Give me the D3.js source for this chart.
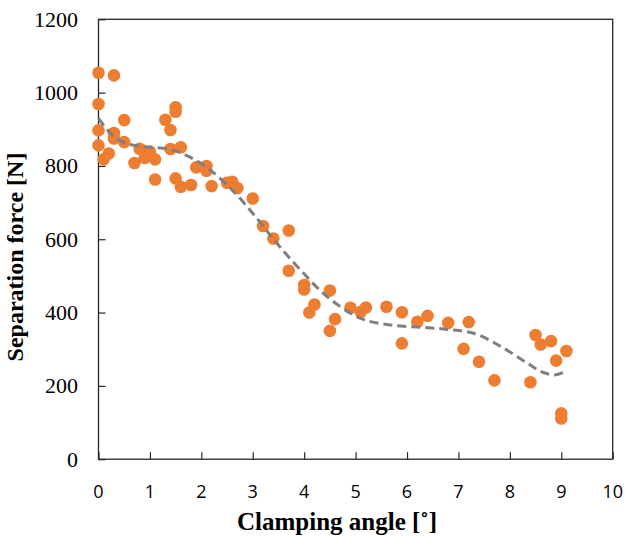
<!DOCTYPE html>
<html>
<head>
<meta charset="utf-8">
<script src="https://cdn.jsdelivr.net/npm/d3@7"></script>
<style>
  body { margin: 0; background: #fff; }
  svg { display: block; }
</style>
</head>
<body>
<div id="chart-area"></div>
<script>
// measured points (clamping angle in degrees, separation force in N)
var angle = [0.0, 0.3, 0.0, 0.5, 0.0, 1.5, 1.5, 1.3, 1.4, 0.3, 0.3, 0.0, 0.5, 0.2, 0.1,
             0.8, 1.0, 0.9, 1.1, 0.7, 1.4, 1.6, 1.1, 1.5, 1.6, 1.8, 1.9, 2.1, 2.1, 2.2,
             2.5, 2.6, 2.7, 3.0, 3.2, 3.7, 3.4, 3.7, 4.0, 4.0, 4.5, 4.2, 4.1, 4.6, 4.5,
             4.9, 5.1, 5.2, 5.6, 5.9, 5.9, 6.2, 6.4, 6.8, 7.2, 7.1, 7.4, 7.7, 8.4, 8.5,
             8.6, 8.8, 8.9, 9.1, 9.0, 9.0];
var force = [1054, 1047, 969, 925, 897, 960, 948, 926, 898, 890, 875, 856, 865, 834, 818,
             847, 839, 822, 818, 808, 846, 851, 763, 766, 743, 748, 796, 800, 787, 745,
             754, 757, 740, 711, 636, 624, 602, 514, 475, 463, 460, 422, 400, 382, 350,
             413, 402, 414, 416, 401, 316, 375, 391, 372, 374, 301, 266, 215, 210, 339,
             313, 322, 269, 295, 125, 111];

// dashed trend line
var trendAngle = [0, 0.29, 0.55, 0.94, 1.39, 1.78, 2.17, 2.63, 3.08, 3.47, 3.93, 4.45,
                  5.1, 5.68, 6.27, 6.79, 7.31, 7.83, 8.35, 8.61, 8.87, 9.1];
var trendForce = [930, 881, 861, 852, 845, 824, 789, 730, 657, 589, 516, 443,
                  384, 366, 360, 354, 343, 307, 261, 239, 230, 240];

var xTicks = [0, 1, 2, 3, 4, 5, 6, 7, 8, 9, 10];
var yTicks = [0, 200, 400, 600, 800, 1000, 1200];

var W = 626, H = 537;
var x0 = 98.5, x1 = 612.7, yBottom = 459.2, yTop = 19.3;

var svg = d3.select("#chart-area")
    .append("svg")
        .attr("width", W)
        .attr("height", H);

var x = d3.scaleLinear().domain([0, 10]).range([x0, x1]);
var y = d3.scaleLinear().domain([0, 1200]).range([yBottom, yTop]);

// frame
svg.append("rect")
    .attr("x", x0)
    .attr("y", yTop)
    .attr("width", x1 - x0)
    .attr("height", yBottom - yTop)
    .attr("fill", "none")
    .attr("stroke", "#262626")
    .attr("stroke-width", 1.3);

// x axis: ticks point inward
var xAxisCall = d3.axisTop(x)
    .tickValues(xTicks)
    .tickSize(7)
    .tickFormat("");

svg.append("g")
    .attr("class", "x-axis")
    .attr("transform", "translate(0, " + yBottom + ")")
    .call(xAxisCall)
    .call(function(g) { g.select(".domain").remove(); })
    .selectAll("line")
        .attr("stroke", "#262626")
        .attr("stroke-width", 1.2);

svg.append("g")
    .selectAll("text")
    .data(xTicks)
    .enter()
    .append("text")
        .attr("x", function(d) { return x(d); })
        .attr("y", 498)
        .attr("text-anchor", "middle")
        .attr("font-family", "'Open Sans', sans-serif")
        .attr("font-size", "18px")
        .attr("fill", "#000")
        .text(function(d) { return d; });

// y axis
var yAxisCall = d3.axisRight(y)
    .tickValues(yTicks)
    .tickSize(7)
    .tickFormat("");

svg.append("g")
    .attr("class", "y-axis")
    .attr("transform", "translate(" + x0 + ", 0)")
    .call(yAxisCall)
    .call(function(g) { g.select(".domain").remove(); })
    .selectAll("line")
        .attr("stroke", "#262626")
        .attr("stroke-width", 1.2);

svg.append("g")
    .selectAll("text")
    .data(yTicks)
    .enter()
    .append("text")
        .attr("x", 78)
        .attr("y", function(d) { return y(d); })
        .attr("dy", "0.34em")
        .attr("text-anchor", "end")
        .attr("font-family", "'Liberation Serif', 'Times New Roman', serif")
        .attr("font-size", "22px")
        .attr("fill", "#000")
        .text(function(d) { return d; });

// axis titles
svg.append("text")
    .attr("x", 337)
    .attr("y", 530)
    .attr("text-anchor", "middle")
    .attr("font-family", "'Liberation Serif', 'Times New Roman', serif")
    .attr("font-weight", "bold")
    .attr("font-size", "25px")
    .text("Clamping angle [˚]");

svg.append("text")
    .attr("transform", "rotate(-90)")
    .attr("x", -257)
    .attr("y", 23)
    .attr("text-anchor", "middle")
    .attr("font-family", "'Liberation Serif', 'Times New Roman', serif")
    .attr("font-weight", "bold")
    .attr("font-size", "24px")
    .text("Separation force [N]");

// points
svg.append("g")
    .selectAll("circle")
    .data(angle)
    .enter()
    .append("circle")
        .attr("cx", function(d) { return x(d); })
        .attr("cy", function(d, i) { return y(force[i]); })
        .attr("r", 6.3)
        .attr("fill", "#ED7D31");

// trend line
var line = d3.line()
    .x(function(d) { return x(d); })
    .y(function(d, i) { return y(trendForce[i]); })
    .curve(d3.curveCatmullRom);

svg.append("path")
    .datum(trendAngle)
    .attr("d", line)
    .attr("fill", "none")
    .attr("stroke", "#7F7F7F")
    .attr("stroke-width", 3)
    .attr("stroke-dasharray", "9,5");
</script>
</body>
</html>
